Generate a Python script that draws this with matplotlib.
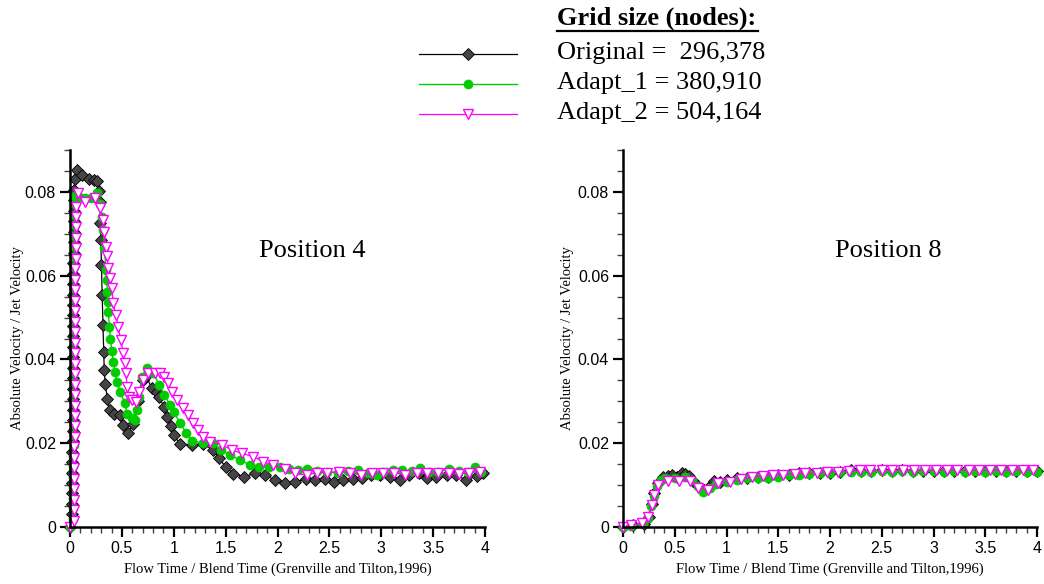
import matplotlib
matplotlib.use("Agg")
import matplotlib.pyplot as plt
from matplotlib.lines import Line2D
from matplotlib.ticker import MultipleLocator, FuncFormatter

# ---------------- data ----------------
series_names = ["Original =  296,378", "Adapt_1 = 380,910", "Adapt_2 = 504,164"]
legend_title = "Grid size (nodes):"
panel_titles = ["Position 4", "Position 8"]
xlabel = "Flow Time / Blend Time (Grenville and Tilton,1996)"
ylabel = "Absolute Velocity / Jet Velocity"

# Position 4
p4_orig_x = [0.0, 0.02, 0.022, 0.022, 0.023, 0.023, 0.024, 0.024, 0.025, 0.025, 0.026, 0.026, 0.027, 0.027,
             0.028, 0.028, 0.029, 0.029, 0.03, 0.03, 0.031, 0.031, 0.032, 0.032, 0.033, 0.033, 0.034, 0.034,
             0.035, 0.035, 0.036, 0.037, 0.04, 0.05, 0.065, 0.113, 0.186, 0.231, 0.257, 0.28, 0.29, 0.293,
             0.297, 0.303, 0.31, 0.318, 0.325, 0.33, 0.34, 0.36, 0.385, 0.42, 0.48, 0.51, 0.556, 0.61, 0.655,
             0.70, 0.735, 0.787, 0.836, 0.86, 0.906, 0.935, 0.97, 1.003, 1.06, 1.173, 1.279, 1.381, 1.436,
             1.50, 1.574, 1.677, 1.783, 1.88, 1.976, 2.072, 2.169, 2.27, 2.36, 2.458, 2.545, 2.634, 2.73,
             2.81, 2.9, 2.99, 3.084, 3.18, 3.27, 3.36, 3.44, 3.53, 3.63, 3.72, 3.82, 3.92, 3.98]
p4_orig_y = [0.0, 0.003, 0.0055, 0.008, 0.0105, 0.013, 0.0155, 0.018, 0.0205, 0.023, 0.0255, 0.028, 0.0305,
             0.033, 0.0355, 0.038, 0.0405, 0.043, 0.0455, 0.048, 0.0505, 0.053, 0.0555, 0.058, 0.0605, 0.063,
             0.0655, 0.068, 0.0705, 0.073, 0.0755, 0.078, 0.0805, 0.083, 0.0853, 0.0841, 0.083, 0.0829, 0.0825,
             0.0801, 0.0777, 0.0726, 0.0685, 0.0626, 0.0554, 0.0482, 0.0418, 0.0375, 0.0341, 0.0306, 0.0279,
             0.027, 0.0267, 0.0244, 0.0224, 0.0246, 0.030, 0.035, 0.036, 0.0332, 0.0322, 0.031, 0.0287, 0.0263,
             0.024, 0.0219, 0.0198, 0.0196, 0.0198, 0.0184, 0.0164, 0.0144, 0.0127, 0.012, 0.0128, 0.0124,
             0.0112, 0.0104, 0.0108, 0.0114, 0.0112, 0.0115, 0.0108, 0.0112, 0.0115, 0.0118, 0.0124, 0.0124,
             0.0119, 0.0112, 0.0124, 0.0128, 0.0116, 0.012, 0.0124, 0.0124, 0.0112, 0.0122, 0.0128]

p4_ad1_x = [0.0, 0.03, 0.031, 0.031, 0.032, 0.032, 0.033, 0.033, 0.034, 0.034, 0.035, 0.035, 0.036, 0.036,
            0.037, 0.037, 0.038, 0.038, 0.039, 0.039, 0.04, 0.04, 0.041, 0.041, 0.042, 0.042, 0.043, 0.043,
            0.044, 0.044, 0.045, 0.045, 0.05, 0.09, 0.145, 0.2, 0.257, 0.29, 0.306, 0.321, 0.331, 0.347,
            0.354, 0.36, 0.365, 0.37, 0.379, 0.39, 0.402, 0.417, 0.434, 0.45, 0.482, 0.53, 0.55, 0.594,
            0.626, 0.649, 0.665, 0.69, 0.739, 0.803, 0.861, 0.91, 0.964, 1.0, 1.06, 1.12, 1.173, 1.285,
            1.38, 1.46, 1.542, 1.639, 1.735, 1.825, 1.92, 2.024, 2.114, 2.2, 2.28, 2.38, 2.48, 2.58, 2.68,
            2.78, 2.87, 2.96, 3.02, 3.11, 3.2, 3.3, 3.37, 3.46, 3.55, 3.65, 3.75, 3.84, 3.9, 3.96]
p4_ad1_y = [0.0, 0.002, 0.0045, 0.007, 0.0095, 0.012, 0.0145, 0.017, 0.0195, 0.022, 0.0245, 0.027, 0.0295,
            0.032, 0.0345, 0.037, 0.0395, 0.042, 0.0445, 0.047, 0.0495, 0.052, 0.0545, 0.057, 0.0595, 0.062,
            0.0645, 0.067, 0.0695, 0.072, 0.0745, 0.077, 0.079, 0.0788, 0.0785, 0.0786, 0.0798, 0.077, 0.0741,
            0.0709, 0.0666, 0.0614, 0.059, 0.0562, 0.0538, 0.0514, 0.0478, 0.045, 0.0421, 0.0395, 0.0369,
            0.0347, 0.0323, 0.0295, 0.027, 0.026, 0.0256, 0.0279, 0.0311, 0.0357, 0.0379, 0.0367, 0.0339,
            0.0315, 0.0291, 0.0275, 0.0248, 0.0225, 0.0206, 0.020, 0.020, 0.0185, 0.0172, 0.016, 0.0148,
            0.0144, 0.0144, 0.0143, 0.0138, 0.0136, 0.0138, 0.0134, 0.0132, 0.0129, 0.0134, 0.0136, 0.013,
            0.0124, 0.0132, 0.0136, 0.0136, 0.0134, 0.014, 0.0132, 0.0132, 0.0138, 0.0134, 0.0132, 0.0144,
            0.0132]

p4_ad2_x = [0.0, 0.04, 0.04, 0.041, 0.041, 0.042, 0.042, 0.043, 0.043, 0.044, 0.044, 0.045, 0.045, 0.046,
            0.046, 0.047, 0.047, 0.048, 0.048, 0.049, 0.049, 0.05, 0.05, 0.051, 0.052, 0.053, 0.054, 0.055,
            0.056, 0.057, 0.058, 0.06, 0.08, 0.145, 0.241, 0.289, 0.321, 0.331, 0.347, 0.354, 0.369, 0.386,
            0.402, 0.417, 0.443, 0.466, 0.488, 0.514, 0.53, 0.54, 0.55, 0.565, 0.595, 0.636, 0.668, 0.707,
            0.755, 0.819, 0.867, 0.906, 0.948, 0.98, 1.034, 1.086, 1.14, 1.188, 1.237, 1.285, 1.35, 1.462,
            1.559, 1.655, 1.767, 1.863, 1.96, 2.07, 2.17, 2.28, 2.38, 2.48, 2.59, 2.70, 2.80, 2.91, 3.02,
            3.12, 3.23, 3.34, 3.44, 3.55, 3.65, 3.75, 3.85, 3.95]
p4_ad2_y = [0.0, 0.0015, 0.004, 0.0065, 0.009, 0.0115, 0.014, 0.0165, 0.019, 0.0215, 0.024, 0.0265, 0.029,
            0.0315, 0.034, 0.0365, 0.039, 0.0415, 0.044, 0.0465, 0.049, 0.0515, 0.054, 0.0565, 0.059, 0.0615,
            0.064, 0.0665, 0.069, 0.0715, 0.074, 0.0765, 0.0797, 0.0777, 0.0785, 0.0761, 0.0733, 0.0705,
            0.0669, 0.0646, 0.0618, 0.0594, 0.057, 0.0534, 0.0506, 0.0478, 0.0447, 0.0415, 0.0391, 0.0367,
            0.0335, 0.0311, 0.0303, 0.0299, 0.0323, 0.0351, 0.0367, 0.0367, 0.0367, 0.0359, 0.0343, 0.0323,
            0.0303, 0.0283, 0.0267, 0.0248, 0.0232, 0.0216, 0.0204, 0.0196, 0.0184, 0.0176, 0.0168, 0.0156,
            0.0148, 0.0138, 0.0128, 0.0124, 0.013, 0.013, 0.0132, 0.013, 0.0124, 0.0128, 0.0128, 0.013,
            0.0124, 0.0128, 0.0128, 0.0128, 0.0128, 0.0127, 0.013, 0.0132]

# Position 8
p8_orig_x = [0.0, 0.1, 0.2, 0.25, 0.28, 0.3, 0.34, 0.389, 0.43, 0.471, 0.52, 0.567, 0.6, 0.638, 0.68, 0.722,
             0.786, 0.84, 0.882, 0.94, 1.0, 1.1, 1.2, 1.3, 1.4, 1.5, 1.6, 1.7, 1.8, 1.9, 2.0, 2.1, 2.2, 2.3,
             2.4, 2.5, 2.6, 2.7, 2.8, 2.9, 3.0, 3.1, 3.2, 3.3, 3.4, 3.5, 3.6, 3.7, 3.8, 3.9, 4.0]
p8_orig_y = [0.0, 0.0004, 0.0008, 0.0025, 0.0055, 0.008, 0.0105, 0.012, 0.0122, 0.0124, 0.012, 0.0129,
             0.0126, 0.0122, 0.011, 0.0098, 0.0088, 0.0098, 0.011, 0.0108, 0.0112, 0.0117, 0.0118, 0.0119,
             0.012, 0.0123, 0.0125, 0.0128, 0.0129, 0.013, 0.013, 0.0132, 0.0135, 0.0133, 0.0134, 0.0135,
             0.0134, 0.0135, 0.0134, 0.0134, 0.0133, 0.0134, 0.0133, 0.0134, 0.0133, 0.0134, 0.0133, 0.0134,
             0.0133, 0.0134, 0.0133]

p8_ad1_x = [0.0, 0.08, 0.19, 0.245, 0.275, 0.3, 0.33, 0.37, 0.406, 0.5, 0.6, 0.67, 0.72, 0.777, 0.84, 0.9,
            1.0, 1.1, 1.2, 1.3, 1.4, 1.5, 1.6, 1.7, 1.8, 1.9, 2.0, 2.1, 2.2, 2.3, 2.4, 2.5, 2.6, 2.7, 2.8,
            2.9, 3.0, 3.1, 3.2, 3.3, 3.4, 3.5, 3.6, 3.7, 3.8, 3.9, 4.0]
p8_ad1_y = [0.0, 0.0003, 0.0007, 0.0022, 0.005, 0.0075, 0.0098, 0.0112, 0.0116, 0.0117, 0.0119, 0.0113,
            0.0098, 0.0084, 0.0092, 0.0102, 0.0108, 0.0113, 0.0116, 0.0118, 0.0118, 0.012, 0.0123, 0.0125,
            0.0127, 0.0128, 0.013, 0.0131, 0.0131, 0.0132, 0.0132, 0.0133, 0.0132, 0.0133, 0.0132, 0.0133,
            0.0134, 0.0132, 0.0133, 0.0132, 0.0133, 0.0132, 0.0133, 0.0132, 0.0133, 0.0132, 0.0132]

p8_ad2_x = [0.0, 0.077, 0.187, 0.245, 0.278, 0.303, 0.336, 0.438, 0.541, 0.648, 0.722, 0.824, 0.921, 1.034,
            1.14, 1.243, 1.35, 1.45, 1.55, 1.66, 1.76, 1.87, 1.97, 2.08, 2.18, 2.29, 2.39, 2.5, 2.6, 2.71,
            2.81, 2.92, 3.02, 3.13, 3.23, 3.34, 3.44, 3.55, 3.65, 3.76, 3.86, 3.96]
p8_ad2_y = [0.0, 0.0005, 0.0009, 0.0023, 0.0053, 0.0077, 0.010, 0.011, 0.011, 0.011, 0.0094, 0.0088,
            0.0104, 0.0108, 0.0114, 0.0119, 0.0122, 0.0124, 0.0125, 0.0127, 0.0128, 0.013, 0.0131, 0.0132,
            0.0133, 0.0135, 0.0135, 0.0135, 0.0135, 0.0135, 0.0136, 0.0135, 0.0136, 0.0135, 0.0136, 0.0135,
            0.0136, 0.0135, 0.0136, 0.0136, 0.0136, 0.0136]

panels = [
    [(p4_orig_x, p4_orig_y), (p4_ad1_x, p4_ad1_y), (p4_ad2_x, p4_ad2_y)],
    [(p8_orig_x, p8_orig_y), (p8_ad1_x, p8_ad1_y), (p8_ad2_x, p8_ad2_y)],
]

# ---------------- styles ----------------
styles = [
    dict(color="black", lw=0.9, marker="D", ms=6.0, mfc="#454545", mec="#000000", mew=0.6),
    dict(color="#00cc00", lw=1.0, marker="o", ms=6.5, mfc="#00cc00", mec="#00cc00", mew=0.5),
    dict(color="#ff00ff", lw=0.9, marker="v", ms=7.5, mfc="white", mec="#ff00ff", mew=1.0),
]

SERIF = ["Liberation Serif", "DejaVu Serif"]
SANS = ["Liberation Sans", "DejaVu Sans"]

fig = plt.figure(figsize=(10.44, 5.84), dpi=100)
W, H = 1044, 584
axes_px = [(70, 485), (623, 1037)]
ylabel_x_px = [18, 568]
title_px = [(312, 251), (888, 251)]
y0_px, y1_px = 527, 150

def fmt(v, pos):
    if abs(v) < 1e-12:
        return "0"
    return f"{v:g}"

for (xl, xr), series, title, ylx, (tx, ty) in zip(axes_px, panels, panel_titles, ylabel_x_px, title_px):
    ax = fig.add_axes([xl / W, 1 - y0_px / H, (xr - xl) / W, (y0_px - y1_px) / H])
    for (xs, ys), st in zip(series, styles):
        ax.plot(xs, ys, clip_on=False, **st)
    ax.set_xlim(0, 4)
    ax.set_ylim(0, 0.09)
    ax.xaxis.set_major_locator(MultipleLocator(0.5))
    ax.xaxis.set_minor_locator(MultipleLocator(0.1))
    ax.yaxis.set_major_locator(MultipleLocator(0.02))
    ax.yaxis.set_minor_locator(MultipleLocator(0.005))
    ax.xaxis.set_major_formatter(FuncFormatter(fmt))
    ax.yaxis.set_major_formatter(FuncFormatter(fmt))
    for s in ["top", "right"]:
        ax.spines[s].set_visible(False)
    for s in ["left", "bottom"]:
        ax.spines[s].set_linewidth(1.8)
    ax.tick_params(which="major", direction="out", length=7, width=1.6, labelsize=11.5, pad=3, colors="black")
    ax.tick_params(which="minor", direction="out", length=4, width=1.0, color="#444444")
    for lab in ax.get_xticklabels() + ax.get_yticklabels():
        lab.set_fontfamily(SANS)
    ax.set_xlabel(xlabel, fontfamily=SERIF, fontsize=10.5, labelpad=5)
    ax.set_ylabel(ylabel, fontfamily=SERIF, fontsize=10.5)
    ax.yaxis.set_label_coords((ylx - xl) / (xr - xl), 0.5)
    ax.yaxis.label.set_va("center")
    ax.text((tx - xl) / (xr - xl), (y0_px - ty) / (y0_px - y1_px), title, transform=ax.transAxes,
            ha="center", va="center", fontfamily=SERIF, fontsize=19)

# ---------------- legend ----------------
fig.text(557 / W, 1 - 18 / H, legend_title, fontfamily=SERIF, fontsize=19, fontweight="bold",
         ha="left", va="center")
fig.add_artist(Line2D([557 / W, 758 / W], [1 - 31 / H, 1 - 31 / H], transform=fig.transFigure,
                      color="black", lw=1.6))
rows_px = [54, 84, 114]
for name, st, ry in zip(series_names, styles, rows_px):
    yy = 1 - ry / H
    fig.add_artist(Line2D([419 / W, 517 / W], [yy, yy], transform=fig.transFigure,
                          color=st["color"], lw=st["lw"]))
    fig.add_artist(Line2D([468 / W], [yy], transform=fig.transFigure, linestyle="none",
                          marker=st["marker"], ms=st["ms"], mfc=st["mfc"], mec=st["mec"], mew=st["mew"]))
    fig.text(557 / W, yy + 1.5 / H, name, fontfamily=SERIF, fontsize=19, ha="left", va="center")

fig.savefig("out.png", dpi=100)
